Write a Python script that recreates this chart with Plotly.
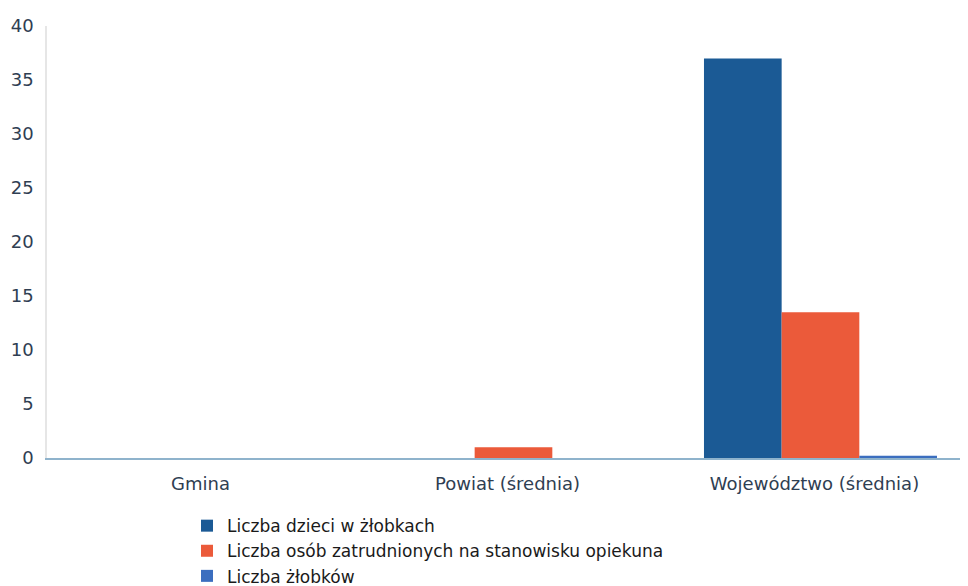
import plotly.graph_objects as go

categories = ["Gmina", "Powiat (średnia)", "Województwo (średnia)"]
series_names = ["Liczba dzieci w żłobkach",
                "Liczba osób zatrudnionych na stanowisku opiekuna",
                "Liczba żłobków"]
dzieci = [0, 0, 37]
opiekunowie = [0, 1, 13.5]
zlobki = [0, 0, 0.2]
colors = ["#1b5a95", "#eb5a3a", "#3b6ebf"]
y_ticks = [0, 5, 10, 15, 20, 25, 30, 35, 40]

bar_width = 0.253
bar_offsets = [-0.36, -0.107, 0.146]

fig = go.Figure()
for name, vals, c, off in zip(series_names, [dzieci, opiekunowie, zlobki], colors, bar_offsets):
    fig.add_trace(go.Bar(name=name, x=categories, y=vals, marker_color=c,
                         marker_line_width=0, width=bar_width, offset=off))

# page body has an 8px default margin, so the figure is 8px smaller and margins compensate
fig.update_layout(
    width=960, height=578,
    margin=dict(l=39, r=0, t=18, b=128, autoexpand=False),
    paper_bgcolor="white", plot_bgcolor="white",
    barmode="group",
    font=dict(family="DejaVu Sans, sans-serif", size=18, color="#2f3e52"),
    showlegend=True,
    legend=dict(orientation="v", x=0.152, xref="paper", y=-0.116, yanchor="top",
                xanchor="left",
                font=dict(family="DejaVu Sans, sans-serif", size=17, color="#1a1a1a"),
                tracegroupgap=0, itemwidth=30, traceorder="normal",
                bgcolor="rgba(0,0,0,0)"),
)
fig.update_xaxes(showgrid=False, showline=True, linecolor="#8fb3cc", linewidth=2,
                 ticks="", automargin=False, ticklabelstandoff=8,
                 tickfont=dict(size=18, color="#2f3e52"))
fig.update_yaxes(range=[0, 40], tickvals=y_ticks, showgrid=False, zeroline=False,
                 showline=True, linecolor="#e6e6e6", linewidth=1.5, ticks="",
                 ticklabelstandoff=8, automargin=False,
                 tickfont=dict(size=18, color="#2f3e52"))

fig.write_html("out.html")
